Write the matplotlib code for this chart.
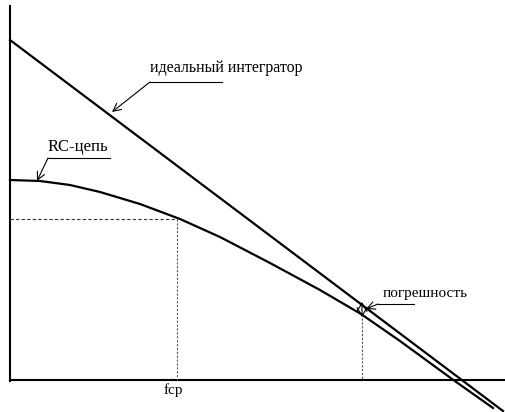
import matplotlib
matplotlib.use('Agg')
import matplotlib.pyplot as plt

# picture coordinates (px), y grows downward
axis_v_x = [10, 10]
axis_v_y = [6, 381]
axis_h_x = [10, 506]
axis_h_y = [380, 380]

ideal_x = [10, 503]
ideal_y = [40, 411]

rc_x = [10, 40, 70, 100, 140, 180, 220, 270, 320, 361, 400, 452, 493]
rc_y = [180, 181, 185, 192, 204, 219, 237, 263, 290, 314, 341, 379, 408]

f_sr = 177
f_err = 362
level_sr = 219

labels = ['идеальный интегратор', 'RC-цепь', 'погрешность']
label_sizes = [11.5, 12, 11]
label_pos = [(150, 72), (48, 151), (383, 297)]
leader_h = [((150, 222), 82), ((48, 110), 158), ((378, 414), 304)]
arrow_tip = [(112, 112), (37, 181), (366, 309)]

fig = plt.figure(figsize=(5.06, 4.12), dpi=100)
ax = fig.add_axes([0, 0, 1, 1])
ax.set_xlim(0, 506)
ax.set_ylim(412, 0)
ax.axis('off')

k = 'black'
ax.plot(axis_v_x, axis_v_y, color=k, lw=1.5)
ax.plot(axis_h_x, axis_h_y, color=k, lw=1.5)
ax.plot(ideal_x, ideal_y, color=k, lw=1.6)
ax.plot(rc_x, rc_y, color=k, lw=1.6, solid_joinstyle='round')

# dashed guides
ax.plot([10, f_sr], [level_sr, level_sr], color='#333333', lw=0.8, ls=(0, (3, 2)))
ax.plot([f_sr, f_sr], [level_sr, 380], color='#555555', lw=0.8, ls=(0, (2, 1.5)))
ax.plot([f_err, f_err], [318, 380], color='#555555', lw=0.8, ls=(0, (2, 1.5)))

# error marker
ax.annotate('', xy=(f_err, 302), xytext=(f_err, 317),
            arrowprops=dict(arrowstyle='<->,head_length=0.5,head_width=0.3',
                            lw=0.8, color=k, mutation_scale=12,
                            shrinkA=0, shrinkB=0))

for txt, fs, (tx, ty), ((hx0, hx1), hy), tip in zip(labels, label_sizes, label_pos, leader_h, arrow_tip):
    ax.text(tx, ty, txt, family='Liberation Serif', fontsize=fs, ha='left', va='baseline')
    ax.plot([hx0, hx1], [hy, hy], color=k, lw=0.8)
    ax.annotate('', xy=tip, xytext=(hx0, hy),
                arrowprops=dict(arrowstyle='->', lw=0.8, color=k,
                                mutation_scale=14, shrinkA=0, shrinkB=0))

ax.text(f_sr - 4, 394, 'fср', family='Liberation Serif', fontsize=11,
        ha='center', va='baseline')

fig.savefig('out.png', dpi=100)
